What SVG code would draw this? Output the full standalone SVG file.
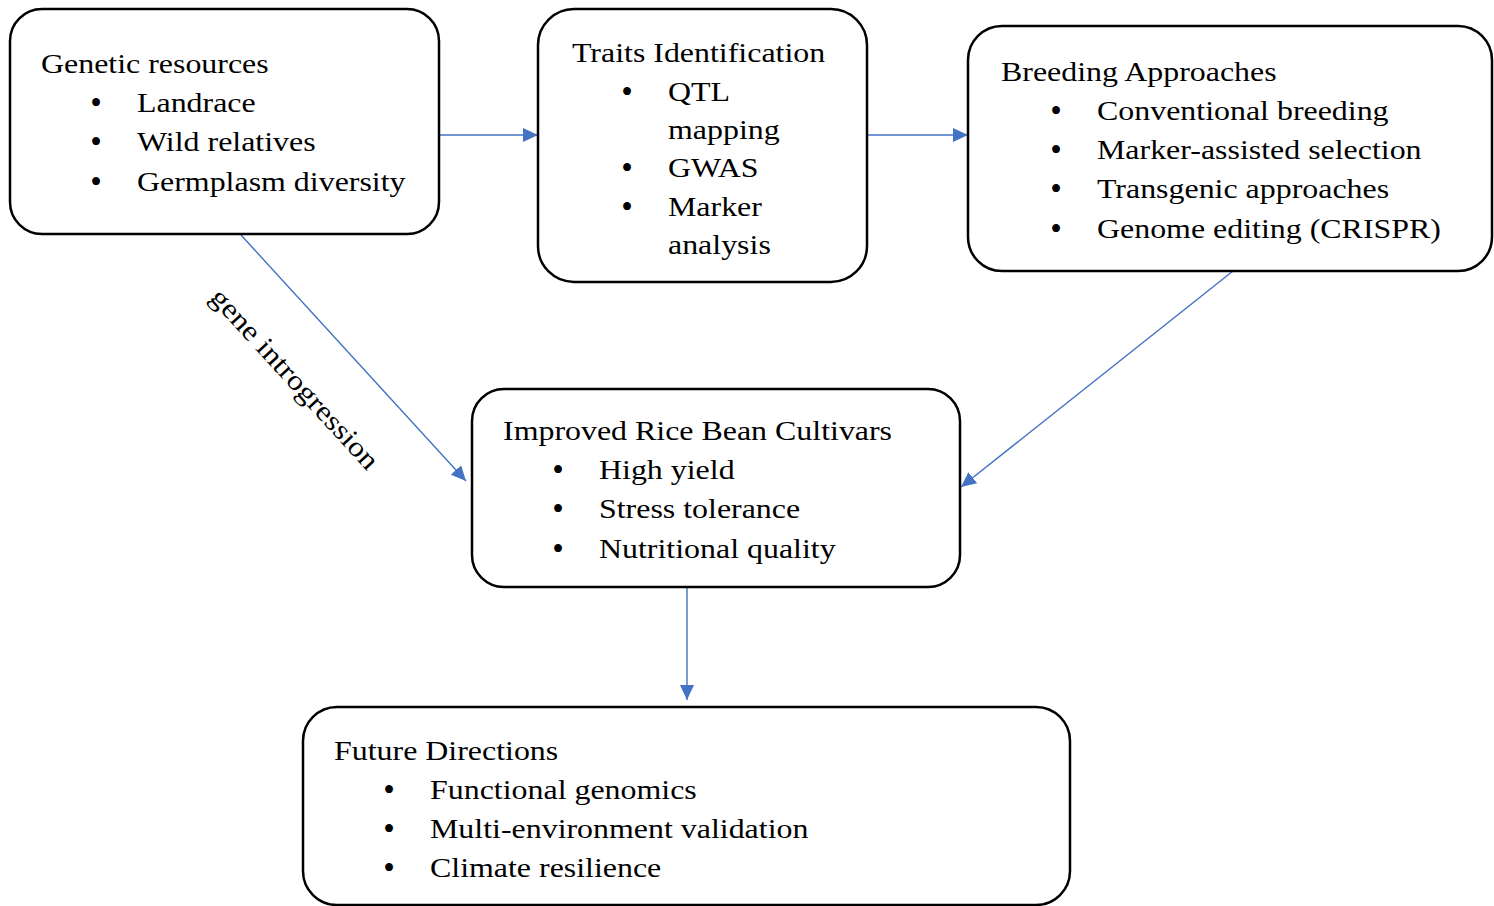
<svg xmlns="http://www.w3.org/2000/svg" width="1494" height="906" viewBox="0 0 1494 906">
<style>
.box{fill:#fff;stroke:#000;stroke-width:2.5}
text{font-family:"Liberation Serif","Times New Roman",serif;font-size:28px;fill:#000}
text.b{font-size:33px;text-anchor:middle}
.con{stroke:#4472C4;stroke-width:1.4;fill:none;marker-end:url(#ah)}
</style>
<defs>
<marker id="ah" markerUnits="userSpaceOnUse" markerWidth="16" markerHeight="14" refX="15" refY="7" orient="auto">
<path d="M0,0 L15,7 L0,14 Z" fill="#4472C4"/>
</marker>
</defs>
<rect width="1494" height="906" fill="#fff"/>
<g id="connectors">
<line class="con" x1="440" y1="135" x2="538" y2="135"/>
<line class="con" x1="868" y1="135" x2="968" y2="135"/>
<line class="con" x1="241" y1="235" x2="466" y2="481"/>
<line class="con" x1="1233" y1="271" x2="961" y2="487"/>
<line class="con" x1="687" y1="588" x2="687" y2="700"/>
<text transform="translate(288,385) rotate(47.5) scale(1.14,1)" text-anchor="middle">gene introgression</text>
</g>
<g id="genetic">
<rect class="box" x="10" y="9" width="429" height="225" rx="32"/>
<text transform="translate(41,73) scale(1.14,1)">Genetic resources</text>
<text class="b" x="96" y="114">•</text><text transform="translate(137,112) scale(1.14,1)">Landrace</text>
<text class="b" x="96" y="153">•</text><text transform="translate(137,151) scale(1.14,1)">Wild relatives</text>
<text class="b" x="96" y="193">•</text><text transform="translate(137,191) scale(1.14,1)">Germplasm diversity</text>
</g>
<g id="traits">
<rect class="box" x="538" y="9" width="329" height="273" rx="36"/>
<text transform="translate(572,62) scale(1.14,1)">Traits Identification</text>
<text class="b" x="627" y="103">•</text><text transform="translate(668,101) scale(1.14,1)">QTL</text>
<text transform="translate(668,139) scale(1.14,1)">mapping</text>
<text class="b" x="627" y="179">•</text><text transform="translate(668,177) scale(1.14,1)">GWAS</text>
<text class="b" x="627" y="218">•</text><text transform="translate(668,216) scale(1.14,1)">Marker</text>
<text transform="translate(668,254) scale(1.14,1)">analysis</text>
</g>
<g id="breeding">
<rect class="box" x="968" y="26" width="524" height="245" rx="34"/>
<text transform="translate(1001,81) scale(1.14,1)">Breeding Approaches</text>
<text class="b" x="1056" y="122">•</text><text transform="translate(1097,120) scale(1.14,1)">Conventional breeding</text>
<text class="b" x="1056" y="161">•</text><text transform="translate(1097,159) scale(1.14,1)">Marker-assisted selection</text>
<text class="b" x="1056" y="200">•</text><text transform="translate(1097,198) scale(1.14,1)">Transgenic approaches</text>
<text class="b" x="1056" y="240">•</text><text transform="translate(1097,238) scale(1.14,1)">Genome editing (CRISPR)</text>
</g>
<g id="improved">
<rect class="box" x="472" y="389" width="488" height="198" rx="32"/>
<text transform="translate(503,440) scale(1.14,1)">Improved Rice Bean Cultivars</text>
<text class="b" x="558" y="481">•</text><text transform="translate(599,479) scale(1.14,1)">High yield</text>
<text class="b" x="558" y="520">•</text><text transform="translate(599,518) scale(1.14,1)">Stress tolerance</text>
<text class="b" x="558" y="560">•</text><text transform="translate(599,558) scale(1.14,1)">Nutritional quality</text>
</g>
<g id="future">
<rect class="box" x="303" y="707" width="767" height="198" rx="34"/>
<text transform="translate(334,760) scale(1.14,1)">Future Directions</text>
<text class="b" x="389" y="801">•</text><text transform="translate(430,799) scale(1.14,1)">Functional genomics</text>
<text class="b" x="389" y="840">•</text><text transform="translate(430,838) scale(1.14,1)">Multi-environment validation</text>
<text class="b" x="389" y="879">•</text><text transform="translate(430,877) scale(1.14,1)">Climate resilience</text>
</g>
</svg>
